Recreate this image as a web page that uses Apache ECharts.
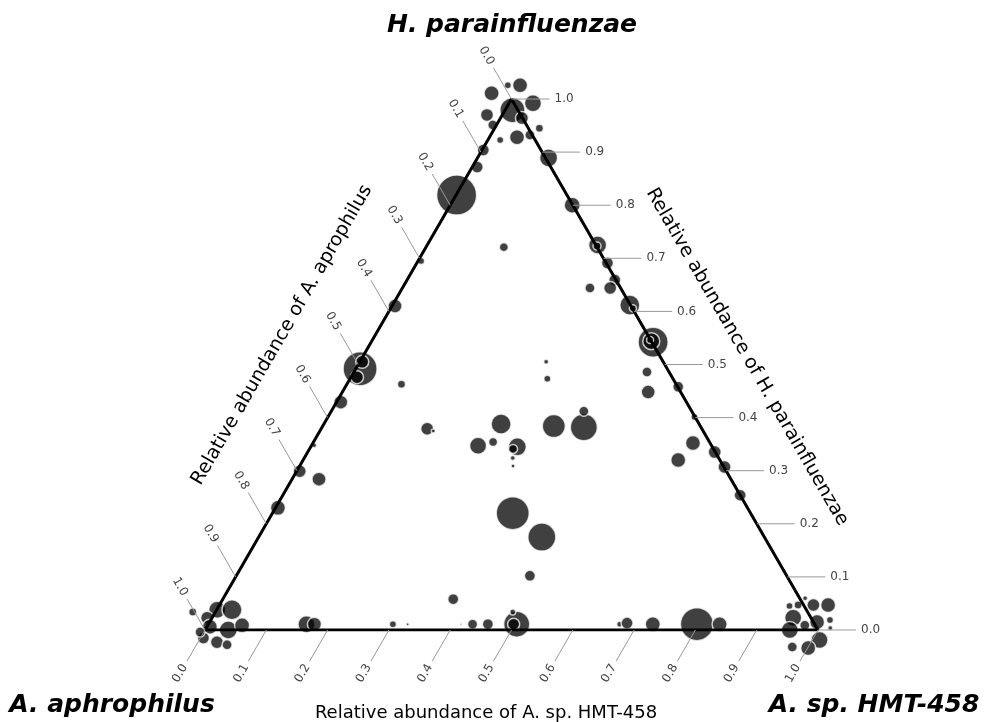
<!DOCTYPE html>
<html>
<head>
<meta charset="utf-8">
<script src="https://cdn.jsdelivr.net/npm/echarts@6/dist/echarts.min.js"></script>
<style>
  html, body { margin: 0; padding: 0; background: #fff; }
  #chart { width: 991px; height: 722px; }
</style>
</head>
<body>
<div id="chart"></div>
<script>
// relative abundances per sample (H. parainfluenzae, A. aphrophilus, A. sp. HMT-458)
const hPara = [1.026, 1.026, 1.011, 0.992, 0.979, 0.970, 0.951, 0.964, 0.945, 0.928, 0.923, 0.932, 0.904, 0.872, 0.889,
  0.819, 0.695, 0.610, 0.492, 0.505, 0.476, 0.463, 0.429, 0.348, 0.299, 0.284, 0.230,
  0.034, 0.038, 0.038, 0.023, 0.006, 0.000, 0.009, -0.015, -0.023, -0.028, -0.004,
  0.011, 0.011, 0.011, 0.011, 0.011, 0.011, 0.011, 0.011, 0.011, 0.034, 0.011, 0.013, 0.011, 0.011, 0.011,
  0.045, 0.047, 0.060, 0.047, 0.047, 0.023, 0.015, 0.019, 0.000, 0.009, -0.019, -0.032, -0.034, 0.004,
  0.800, 0.725, 0.723, 0.691, 0.659, 0.644, 0.644, 0.612, 0.606, 0.542, 0.544, 0.546, 0.486, 0.448, 0.458,
  0.401, 0.352, 0.320, 0.335, 0.307, 0.254, 0.111,
  0.721, 0.505, 0.473, 0.379, 0.375, 0.388, 0.347, 0.354, 0.345, 0.341, 0.324, 0.309, 0.384, 0.382, 0.412,
  0.220, 0.175, 0.102, 0.058]
const aAphro = [-0.027, -0.007, 0.027, -0.031, 0.009, 0.055, 0.055, 0.001, -0.018, 0.027, 0.057, 0.004, 0.094, 0.120, -0.005,
  0.180, 0.300, 0.385, 0.501, 0.491, 0.514, 0.448, 0.564, 0.648, 0.696, 0.672, 0.766,
  1.003, 0.961, 0.937, 0.985, 0.989, 0.962, 0.935, 1.010, 0.992, 0.978, 1.010,
  0.829, 0.816, 0.688, 0.664, 0.577, 0.558, 0.533, 0.486, 0.491, 0.481, 0.318, 0.305, 0.264, 0.192, 0.155,
  0.024, 0.009, -0.009, -0.016, -0.040, 0.029, -0.006, -0.029, 0.046, 0.017, 0.007, 0.058, 0.033, -0.022,
  0.001, -0.003, -0.001, -0.002, 0.002, 0.017, 0.050, 0.001, -0.001, -0.002, 0.000, 0.001, 0.036, 0.053, -0.001,
  0.001, 0.028, 0.068, 0.001, -0.001, 0.000, 0.000,
  0.152, 0.191, 0.205, 0.448, 0.440, 0.323, 0.381, 0.353, 0.318, 0.327, 0.336, 0.343, 0.239, 0.191, 0.176,
  0.388, 0.363, 0.419, 0.566]
const aSp = [0.001, -0.019, -0.038, 0.039, 0.012, -0.025, -0.006, 0.035, 0.073, 0.045, 0.020, 0.064, 0.002, 0.008, 0.116,
  0.001, 0.005, 0.005, 0.007, 0.004, 0.010, 0.089, 0.007, 0.004, 0.005, 0.044, 0.004,
  -0.037, 0.001, 0.025, -0.008, 0.005, 0.038, 0.056, 0.005, 0.031, 0.050, -0.006,
  0.160, 0.173, 0.301, 0.325, 0.412, 0.431, 0.456, 0.503, 0.498, 0.485, 0.671, 0.682, 0.725, 0.797, 0.834,
  0.931, 0.944, 0.949, 0.969, 0.993, 0.948, 0.991, 1.010, 0.954, 0.974, 1.012, 0.974, 1.001, 1.018,
  0.199, 0.278, 0.278, 0.311, 0.339, 0.339, 0.306, 0.387, 0.395, 0.460, 0.456, 0.453, 0.478, 0.499, 0.543,
  0.598, 0.620, 0.612, 0.664, 0.694, 0.746, 0.889,
  0.127, 0.304, 0.322, 0.173, 0.185, 0.289, 0.272, 0.293, 0.337, 0.332, 0.340, 0.348, 0.377, 0.427, 0.412,
  0.392, 0.462, 0.479, 0.376]
// bubble diameter (px)
const bubbleSize = [15, 7, 15, 17, 25, 13, 10, 13, 8, 15, 7, 10, 12, 12, 18,
  40, 7, 14, 34, 13, 13, 8, 14, 5, 13, 14, 15,
  8, 17, 20, 13, 15, 18, 15, 12, 13, 10, 10,
  17, 14, 7, 3, 2, 10, 11, 26, 12, 6, 6, 12, 15, 33, 15,
  7, 8, 5, 13, 15, 17, 15, 7, 17, 10, 17, 10, 15, 5,
  16, 18, 8, 12, 12, 13, 10, 20, 7, 30, 17, 7, 10, 14, 11,
  7, 15, 15, 13, 13, 12, 4,
  9, 5, 7, 13, 4, 20, 17, 9, 18, 9, 5, 4, 23, 27, 10,
  33, 28, 11, 11]

const ticks = [0, 0.1, 0.2, 0.3, 0.4, 0.5, 0.6, 0.7, 0.8, 0.9, 1.0]
const tickLabels = ['0.0', '0.1', '0.2', '0.3', '0.4', '0.5', '0.6', '0.7', '0.8', '0.9', '1.0']

const S3 = Math.sqrt(3) / 2
const FONT = '"DejaVu Sans", Verdana, sans-serif'

// ternary -> plane (top = H. parainfluenzae, left = A. aphrophilus, right = A. sp.)
function toXY(h, ap, sp) {
  return [sp + h / 2, h * S3]
}

var points = hPara.map((h, i) => toXY(h, aAphro[i], aSp[i]).concat([bubbleSize[i]]))
var frame = [[0, 1, 0], [0, 0, 1], [1, 0, 0], [0, 1, 0]].map(v => toXY(v[0], v[1], v[2]))

// one tick series per side; where = point on side for value t, dir = tick direction
function tickSeries(where, dir, rot, align, len, gap) {
  return {
    type: 'custom',
    silent: true,
    z: 5,
    data: ticks.map(t => [t, 0]),
    renderItem: function (params, api) {
      var t = api.value(0)
      var p = api.coord(where(t))
      var lab = tickLabels[params.dataIndex]
      return {
        type: 'group',
        children: [{
          type: 'line',
          shape: { x1: p[0], y1: p[1], x2: p[0] + dir[0] * len, y2: p[1] + dir[1] * len },
          style: { stroke: '#999', lineWidth: 1 }
        }, {
          type: 'text',
          x: p[0] + dir[0] * gap,
          y: p[1] + dir[1] * gap,
          rotation: rot,
          style: {
            text: lab, font: '12px ' + FONT, fill: '#444',
            align: align, textAlign: align, verticalAlign: 'middle', textVerticalAlign: 'middle'
          }
        }]
      }
    }
  }
}

function label(text, x, y, font, rot) {
  return {
    type: 'text', x: x, y: y, rotation: rot || 0,
    style: { text: text, font: font, fill: '#000', align: 'center', textAlign: 'center', verticalAlign: 'middle', textVerticalAlign: 'middle' }
  }
}

var myChart = echarts.init(document.getElementById('chart'))

var option = {
  animation: false,
  backgroundColor: '#fff',
  grid: { left: 205, top: 99, width: 613, height: 531 },
  xAxis: { type: 'value', min: 0, max: 1, show: false },
  yAxis: { type: 'value', min: 0, max: S3, show: false },
  graphic: [
    label('H. parainfluenzae', 512, 25, 'italic bold 25px ' + FONT),
    label('A. aphrophilus', 112, 705, 'italic bold 25px ' + FONT),
    label('A. sp. HMT-458', 874, 705, 'italic bold 25px ' + FONT),
    label('Relative abundance of A. sp. HMT-458', 486, 713, '18px ' + FONT),
    label('Relative abundance of A. aprophilus', 282, 335, '19px ' + FONT, Math.PI / 3),
    label('Relative abundance of H. parainfluenzae', 747, 357, '19px ' + FONT, -Math.PI / 3)
  ],
  series: [
    {
      type: 'scatter',
      clip: false,
      silent: true,
      z: 2,
      data: points,
      symbolSize: function (v) { return v[2] },
      itemStyle: { color: '#000', opacity: 0.75, borderColor: '#fff', borderWidth: 1.5 }
    },
    {
      type: 'line',
      silent: true,
      z: 4,
      symbol: 'none',
      data: frame,
      lineStyle: { color: '#000', width: 3 }
    },
    // bottom: A. sp. HMT-458
    tickSeries(t => toXY(0, 1 - t, t), [-0.5, S3], Math.PI / 3, 'center', 36, 50),
    // left: A. aphrophilus
    tickSeries(t => toXY(1 - t, t, 0), [-0.5, -S3], -Math.PI / 3, 'center', 36, 50),
    // right: H. parainfluenzae
    tickSeries(t => toXY(t, 0, 1 - t), [1, 0], 0, 'left', 38, 43)
  ]
}

myChart.setOption(option)
</script>
</body>
</html>
